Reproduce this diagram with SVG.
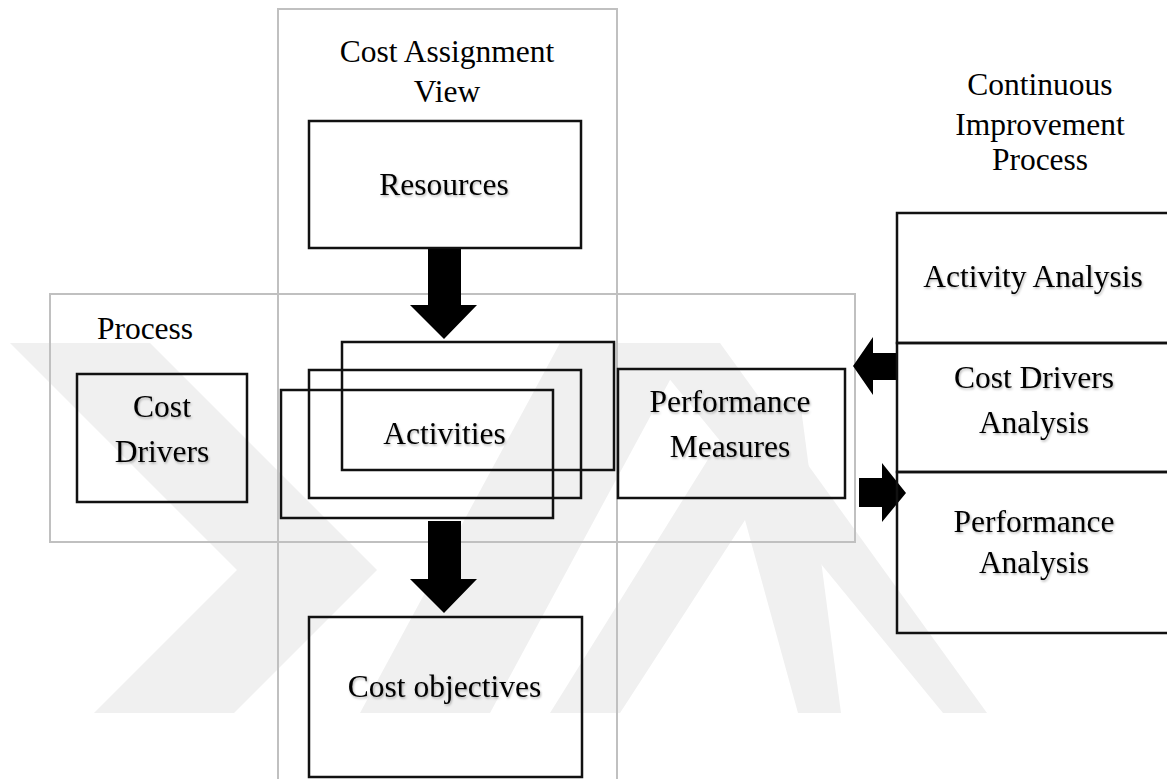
<svg xmlns="http://www.w3.org/2000/svg" width="1167" height="779" viewBox="0 0 1167 779">
  <defs>
    <filter id="sh" x="-10%" y="-30%" width="120%" height="160%">
      <feDropShadow dx="1" dy="1.5" stdDeviation="1" flood-color="#000" flood-opacity="0.3"/>
    </filter>
  </defs>
  <style>
    .wm { fill: #f0f0f0; }
    .frame { fill: none; stroke: #c0c0c0; stroke-width: 2; }
    .box { fill: none; stroke: #111; stroke-width: 2.5; }
    .lbl { font-family: "Liberation Serif", "Times New Roman", serif; font-size: 31.5px; fill: #000; text-anchor: middle; }
    .sh { filter: url(#sh); }
    .arrow { fill: #000; }
  </style>
  <rect x="0" y="0" width="1167" height="779" fill="#fff"/>

  <g id="watermark">
    <polygon class="wm" points="10,343 150,343 377,570 234,713 94,713 237,570"/>
    <polygon class="wm" points="560,343 690,343 490,713 360,713"/>
    <polygon class="wm" points="745,400 800,400 841,713 798,713 745,520 620,713 550,713"/>
    <polygon class="wm" points="640,343 720,343 987,713 943,713"/>
  </g>

  <g id="frames">
    <g id="cost-assignment-view">
      <rect class="frame" x="278" y="9" width="339" height="790"/>
      <text class="lbl" x="447" y="62">Cost Assignment</text>
      <text class="lbl" x="447" y="102">View</text>
    </g>
    <g id="process">
      <rect class="frame" x="50" y="294" width="805" height="248"/>
      <text class="lbl" x="145" y="339">Process</text>
    </g>
    <g id="continuous-improvement">
      <text class="lbl" x="1040" y="95">Continuous</text>
      <text class="lbl" x="1040" y="135">Improvement</text>
      <text class="lbl" x="1040" y="170">Process</text>
    </g>
  </g>

  <g id="connectors">
    <polygon class="arrow" points="428,248 461,248 461,305 477,305 444,339 410,305 428,305"/>
    <polygon class="arrow" points="428,521 461,521 461,579 477,579 444,613 410,579 428,579"/>
    <polygon class="arrow" points="897,353 873,353 873,337 853,366 873,395 873,380 897,380"/>
    <polygon class="arrow" points="859,478 882,478 882,463 906,493 882,522 882,507 859,507"/>
  </g>

  <g id="resources">
    <rect class="box" x="309" y="121" width="272" height="127"/>
    <text class="lbl sh" x="444" y="195">Resources</text>
  </g>

  <g id="cost-drivers">
    <rect class="box" x="77" y="374" width="170" height="128"/>
    <text class="lbl sh" x="162" y="417">Cost</text>
    <text class="lbl sh" x="162" y="462">Drivers</text>
  </g>

  <g id="activities">
    <rect class="box" x="342" y="342" width="272" height="128"/>
    <rect class="box" x="309" y="370" width="272" height="128"/>
    <rect class="box" x="281" y="390" width="272" height="128"/>
    <text class="lbl sh" x="444.5" y="444">Activities</text>
  </g>

  <g id="performance-measures">
    <rect class="box" x="618" y="369" width="227" height="129"/>
    <text class="lbl sh" x="730" y="412">Performance</text>
    <text class="lbl sh" x="730" y="457">Measures</text>
  </g>

  <g id="cost-objectives">
    <rect class="box" x="309" y="617" width="273" height="160"/>
    <text class="lbl sh" x="444.5" y="697">Cost objectives</text>
  </g>

  <g id="activity-analysis">
    <rect class="box" x="897" y="213" width="290" height="130"/>
    <text class="lbl sh" x="1033" y="287">Activity Analysis</text>
  </g>

  <g id="cost-drivers-analysis">
    <rect class="box" x="897" y="343" width="290" height="129"/>
    <text class="lbl sh" x="1034" y="388">Cost Drivers</text>
    <text class="lbl sh" x="1034" y="433">Analysis</text>
  </g>

  <g id="performance-analysis">
    <rect class="box" x="897" y="472" width="290" height="161"/>
    <text class="lbl sh" x="1034" y="532">Performance</text>
    <text class="lbl sh" x="1034" y="573">Analysis</text>
  </g>
</svg>
